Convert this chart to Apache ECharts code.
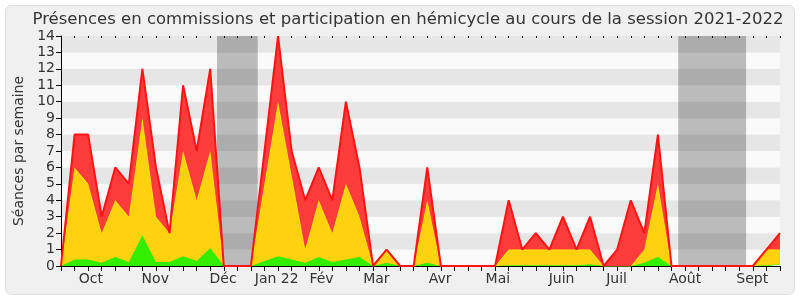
<!DOCTYPE html>
<html><head><meta charset="utf-8">
<script src="https://cdn.jsdelivr.net/npm/echarts@6/dist/echarts.min.js"></script>
<style>html,body{margin:0;padding:0;background:#fff}#c{width:800px;height:300px}</style>
</head><body><div id="c"></div>
<script>
// weekly index 0..53 (session 2021-2022)
const weeks = Array.from({length: 54}, (_, i) => i);
// component values per week (stacked: green, then yellow, then red)
const greenVals = [0,0.4,0.4,0.2,0.55,0.25,1.85,0.25,0.25,0.6,0.3,1.1,0,0,0,0.3,0.6,0.4,0.2,0.55,0.25,0.4,0.55,0,0.2,0,0,0.2,0,0,0,0,0,0.05,0.05,0.05,0.05,0.05,0.05,0.1,0,0,0,0.2,0.55,0,0,0,0,0,0,0,0.05,0.1];
const yellowTop = [0,6,5,2,4,3,9,3,2,7,4,7,0,0,0,5,10,5.5,1,4,2,5,3,0,1,0,0,4,0,0,0,0,0,1,1,1,1,1,1,1,0,0,0,1,5,0,0,0,0,0,0,0,1,1];
const redTop =    [0,8,8,3,6,5,12,6,2,11,7,12,0,0,0,7,14,7,4,6,4,10,6,0,1,0,0,6,0,0,0,0,0,4,1,2,1,3,1,3,0,1,4,2,8,0,0,0,0,0,0,0,1,2];
const monthNames = ['Oct','Nov','Déc','Jan 22','Fév','Mar','Avr','Mai','Juin','Juil','Août','Sept'];
const monthPos = [2.2,6.95,11.95,15.9,19.2,23.25,27.95,32.2,36.9,40.95,46.0,50.95];
const holidays = [[11.5,14.5],[45.5,50.5]];
const yTicks = [0,1,2,3,4,5,6,7,8,9,10,11,12,13,14];

const yellowVals = yellowTop.map((v,i)=> +(Math.max(0, v - greenVals[i])).toFixed(3));
const redVals = redTop.map((v,i)=> +(Math.max(0, v - yellowTop[i])).toFixed(3));

const FONT = 'DejaVu Sans';
const chart = echarts.init(document.getElementById('c'), null, {renderer:'canvas'});
chart.setOption({
  animation:false,
  backgroundColor:'#ffffff',
  textStyle:{fontFamily:FONT},
  graphic:[{type:'rect', z:-10, shape:{x:5.5,y:5.5,width:789,height:289,r:6}, style:{fill:'#f0f0f0',stroke:'#dedede',lineWidth:1}}],
  title:{text:'Présences en commissions et participation en hémicycle au cours de la session 2021-2022',
    left:403, textAlign:'center', top:6,
    textStyle:{fontFamily:FONT,fontSize:16.5,fontWeight:'normal',color:'#333'}},
  grid:{left:61,right:20,top:36,bottom:34,containLabel:false},
  xAxis:[
    {type:'category', data:weeks, boundaryGap:false, position:'bottom',
     axisLine:{lineStyle:{color:'#000',width:1}},
     axisTick:{interval:0,length:5,lineStyle:{color:'#000'}},
     axisLabel:{show:false}, splitLine:{show:false}},
    {type:'value', min:0, max:53, position:'bottom',
     axisLine:{show:false}, axisTick:{show:false}, splitLine:{show:false},
     axisLabel:{customValues:monthPos, margin:6, fontSize:14, color:'#333', fontFamily:FONT,
       formatter:(v)=>{const k=monthPos.indexOf(v); return k>=0?monthNames[k]:'';}}},
    {type:'category', data:weeks, boundaryGap:false, position:'top',
     axisLine:{show:false}, axisTick:{interval:0,inside:true,length:2,lineStyle:{color:'#000'}},
     axisLabel:{show:false}, splitLine:{show:false}}
  ],
  yAxis:{type:'value', min:0, max:14, interval:1,
    name:'Séances par semaine', nameLocation:'middle', nameGap:34, nameRotate:90,
    nameTextStyle:{fontSize:14,color:'#333',fontFamily:FONT},
    axisLine:{show:true,lineStyle:{color:'#000'}},
    axisTick:{show:true,length:5,lineStyle:{color:'#000'}},
    axisLabel:{fontSize:14,color:'#333',margin:6,fontFamily:FONT},
    splitLine:{show:false},
    splitArea:{show:true,areaStyle:{color:['#fafafa','#e6e6e6']}}},
  series:[
    {name:'holidays', type:'line', xAxisIndex:1, data:[], silent:true,
     markArea:{silent:true, itemStyle:{color:'rgba(0,0,0,0.25)'},
       data:holidays.map(h=>[{xAxis:h[0]},{xAxis:h[1]}])}},
    {name:'g', type:'line', stack:'s', data:greenVals, symbol:'none', z:3,
     lineStyle:{color:'#2ee600',width:1}, areaStyle:{color:'#33ee00',opacity:1}},
    {name:'y', type:'line', stack:'s', data:yellowVals, symbol:'none', z:4,
     lineStyle:{color:'#ffee00',width:1.2}, areaStyle:{color:'#ffd20f',opacity:1}},
    {name:'r', type:'line', stack:'s', data:redVals, symbol:'none', z:5,
     lineStyle:{color:'#ff1414',width:2}, areaStyle:{color:'#ff3c3c',opacity:1}}
  ]
});
</script></body></html>
